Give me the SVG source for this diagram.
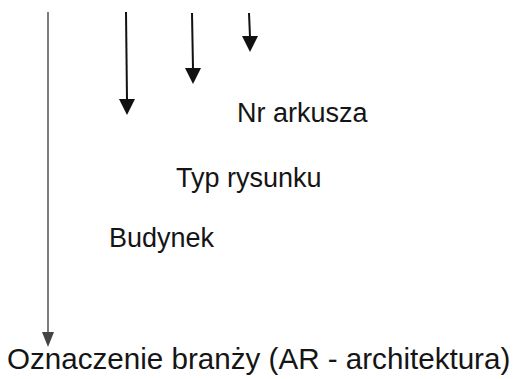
<svg xmlns="http://www.w3.org/2000/svg" width="513" height="379" viewBox="0 0 513 379">
<defs>
<style>
.lbl{font-family:"Liberation Sans",Arial,Helvetica,sans-serif;font-size:27px;fill:#151515}
.main{font-size:29.6px}
.arr{stroke:#111;stroke-width:2;fill:none}
.head{fill:#111}
</style>
</defs>
<rect width="513" height="379" fill="#fff"/>
<g id="connectors">
<line x1="48" y1="12" x2="48" y2="334" stroke="#6e6e6e" stroke-width="1.8"/>
<polygon points="42,332 54,332 48,347" fill="#444"/>
<line class="arr" x1="126" y1="12" x2="127" y2="100"/>
<polygon class="head" points="119,99 135,99 127,115"/>
<line class="arr" x1="192" y1="13" x2="193" y2="69"/>
<polygon class="head" points="185,68 201,68 193,84"/>
<line class="arr" x1="249" y1="13" x2="250" y2="37"/>
<polygon class="head" points="242,36 258,36 250,52"/>
</g>
<g id="node-nr-arkusza"><text class="lbl" x="237" y="122">Nr arkusza</text></g>
<g id="node-typ-rysunku"><text class="lbl" x="176" y="187">Typ rysunku</text></g>
<g id="node-budynek"><text class="lbl" x="109" y="247">Budynek</text></g>
<g id="node-oznaczenie"><text class="lbl main" x="7" y="369">Oznaczenie branży (AR - architektura)</text></g>
</svg>
